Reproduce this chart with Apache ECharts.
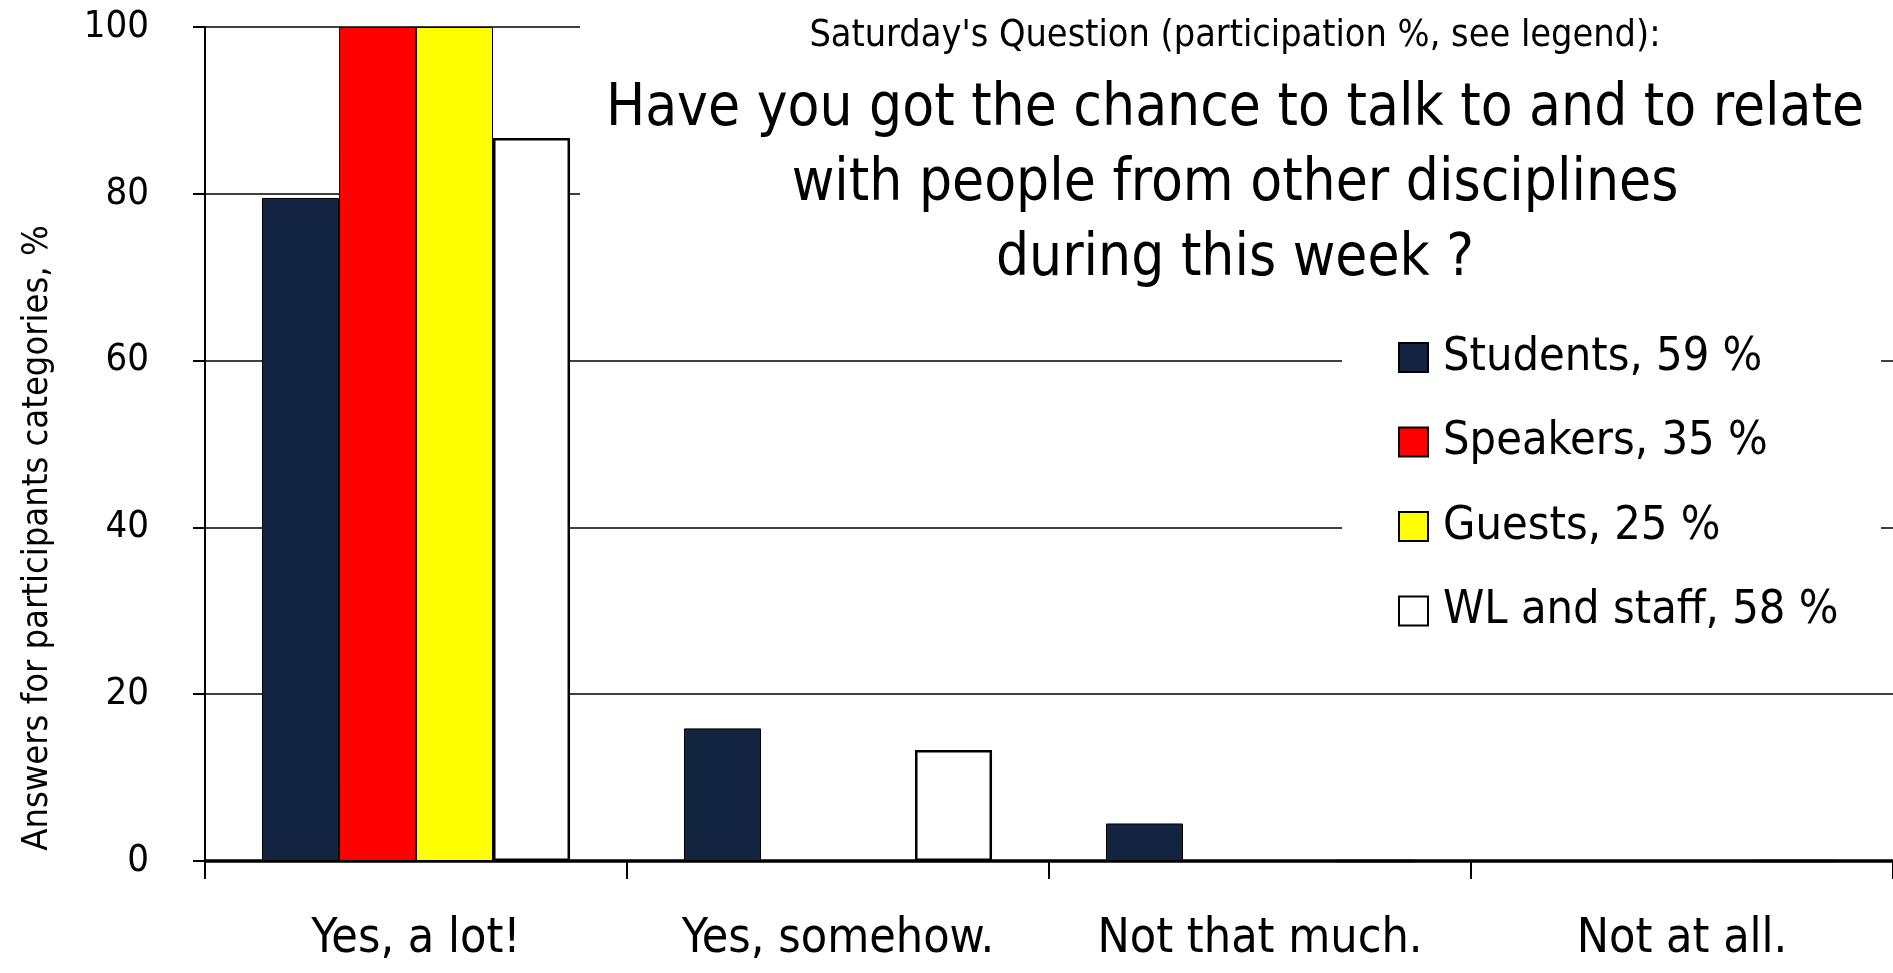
<!DOCTYPE html>
<html>
<head>
<meta charset="utf-8">
<script src="https://cdn.jsdelivr.net/npm/echarts@6/dist/echarts.min.js"></script>
<style>
html,body{margin:0;padding:0;background:#fff;}
#chart{width:1893px;height:973px;}
</style>
</head>
<body>
<div id="chart"></div>
<script>
const categories = ['Yes, a lot!', 'Yes, somehow.', 'Not that much.', 'Not at all.'];
const students = [79.5, 15.9, 4.5, 0];
const speakers = [100, 0, 0, 0];
const guests = [100, 0, 0, 0];
const wlStaff = [86.7, 13.3, 0, 0];
const seriesNames = ['Students, 59 %', 'Speakers, 35 %', 'Guests, 25 %', 'WL and staff, 58 %'];
const seriesColors = ['#12243f', '#ff0000', '#ffff00', '#ffffff'];
const supTitle = "Saturday's Question (participation %, see legend):";
const mainTitle = 'Have you got the chance to talk to and to relate\nwith people from other disciplines\nduring this week ?';
const yAxisName = 'Answers for participants categories, %';

const FONT = "'Liberation Sans Narrow', 'DejaVu Sans Condensed', sans-serif";
const chart = echarts.init(document.getElementById('chart'));
const values = [students, speakers, guests, wlStaff];
const borderW = [1, 1, 1, 2.5];

chart.setOption({
  backgroundColor: '#fff',
  animation: false,
  textStyle: { fontFamily: FONT, color: '#000' },
  title: [
    { text: supTitle, left: 1235, top: 17, textAlign: 'center', padding: 0, z: 10,
      textStyle: { fontFamily: FONT, fontSize: 37.5, fontWeight: 'normal', color: '#000' } },
    { text: mainTitle, left: 1235, top: 72, textAlign: 'center', padding: 0, z: 10,
      textStyle: { fontFamily: FONT, fontSize: 58, lineHeight: 75, fontWeight: 'normal', color: '#000' } }
  ],
  graphic: [
    { type: 'rect', left: 580, top: 0, z: 5, shape: { width: 1313, height: 300 }, style: { fill: '#fff' } },
    { type: 'rect', left: 1342, top: 300, z: 5, shape: { width: 539, height: 360 }, style: { fill: '#fff' } },
    { type: 'text', x: 38, y: 538, rotation: Math.PI / 2, z: 10,
      style: { text: yAxisName, fill: '#000', font: "36px 'DejaVu Sans Condensed', sans-serif",
               textAlign: 'center', textVerticalAlign: 'middle' } }
  ],
  legend: {
    orient: 'vertical', left: 1398, top: 334, padding: 0, z: 10,
    itemWidth: 29, itemHeight: 29, itemGap: 37.5,
    icon: 'rect',
    itemStyle: { borderColor: '#000', borderWidth: 2 },
    textStyle: { fontFamily: FONT, fontSize: 46.5, color: '#000', padding: [0, 0, 0, 10] },
    data: seriesNames
  },
  grid: { left: 205, right: 0, top: 27, bottom: 112, containLabel: false },
  xAxis: {
    type: 'category', data: categories,
    axisLine: { lineStyle: { color: '#000', width: 3.5 } },
    axisTick: { show: true, interval: 0, length: 18, lineStyle: { color: '#000', width: 2 } },
    axisLabel: { interval: 0, fontFamily: FONT, fontSize: 48, color: '#000', margin: 55 },
    splitLine: { show: false }
  },
  yAxis: {
    type: 'value', min: 0, max: 100, interval: 20,
    axisLine: { show: true, lineStyle: { color: '#000', width: 2 } },
    axisTick: { show: true, length: 12, lineStyle: { color: '#000', width: 2 } },
    axisLabel: { fontFamily: FONT, fontSize: 38, color: '#000', margin: 56 },
    splitLine: { show: true, lineStyle: { color: '#000', width: 1.5 } }
  },
  series: seriesNames.map((n, i) => ({
    name: n, type: 'bar', data: values[i],
    barGap: '0%', barCategoryGap: '27%',
    itemStyle: { color: seriesColors[i], borderColor: '#000', borderWidth: borderW[i] }
  }))
});
</script>
</body>
</html>
